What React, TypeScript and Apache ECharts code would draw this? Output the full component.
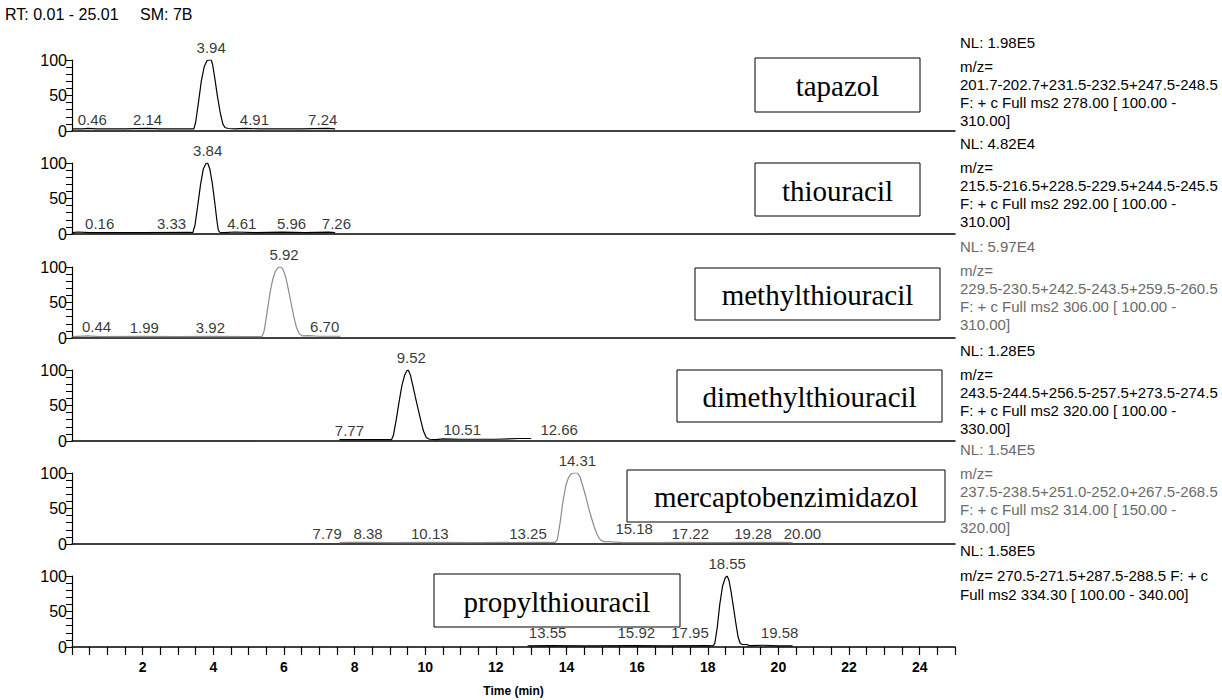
import React, { useEffect, useRef } from 'react';
import * as echarts from 'echarts';

// ---------- data ----------
const compoundNames = ['tapazol', 'thiouracil', 'methylthiouracil', 'dimethylthiouracil', 'mercaptobenzimidazol', 'propylthiouracil'];

const tapazolTrace = [[0.01,3],[0.3,3],[0.46,3.8],[0.7,3],[1.5,3],[2.14,3.6],[2.5,3],[3.2,3],[3.45,3],[3.5,12],[3.58,40],[3.66,70],[3.74,90],[3.82,99],[3.9,100],[3.94,100],[3.98,94],[4.05,72],[4.12,48],[4.2,25],[4.27,10],[4.33,5],[4.42,3.5],[4.6,3],[4.91,3.6],[5.3,3],[6.5,3],[7.24,3.6],[7.45,3]];
const thiouracilTrace = [[0.01,2],[0.16,2.8],[0.5,2],[2,2],[3.33,2.5],[3.42,2],[3.48,12],[3.56,40],[3.64,70],[3.72,92],[3.8,100],[3.84,100],[3.9,92],[3.97,72],[4.04,45],[4.1,20],[4.14,6],[4.18,2.5],[4.3,2],[4.61,2.8],[5.2,2],[5.96,2.6],[6.6,2],[7.26,2.6],[7.45,2]];
const methylTrace = [[0.01,2],[0.44,3],[0.8,2],[1.99,2.4],[3,2],[3.92,2.3],[5.0,2],[5.38,2],[5.44,10],[5.52,35],[5.6,62],[5.68,82],[5.76,94],[5.84,99.5],[5.92,100],[5.98,96],[6.05,86],[6.12,70],[6.2,50],[6.28,30],[6.36,14],[6.44,6],[6.52,3],[6.7,3.4],[7.0,2.5],[7.6,2.5]];
const dimethylTrace = [[7.57,2],[7.77,2],[8.5,2],[9.05,2],[9.1,8],[9.18,30],[9.26,55],[9.34,78],[9.42,93],[9.48,99],[9.52,100],[9.58,93],[9.65,78],[9.72,62],[9.8,45],[9.88,28],[9.95,14],[10.03,5],[10.12,2.5],[10.3,2],[10.51,3],[11,2.5],[12,2.5],[12.66,3.5],[13.0,3.5]];
const mercaptoTrace = [[7.58,2],[7.79,2.3],[8.38,2.2],[9,2],[10.13,2.2],[11.5,2],[13.25,2.3],[13.68,2.2],[13.74,6],[13.82,30],[13.9,60],[13.98,82],[14.06,94],[14.14,99],[14.22,100],[14.31,100],[14.38,95],[14.46,82],[14.54,68],[14.62,52],[14.7,38],[14.78,25],[14.86,14],[14.94,7],[15.02,4],[15.1,3],[15.18,3.5],[15.3,3],[15.6,2],[16.5,2],[17.22,2.4],[18.2,2],[19.28,2.3],[20.0,2.5],[20.4,2]];
const propylTrace = [[12.9,1.5],[13.55,2],[14.5,1.5],[15.92,2],[16.8,1.5],[17.95,2],[18.15,1.5],[18.2,5],[18.27,28],[18.34,60],[18.42,86],[18.5,98],[18.55,100],[18.6,94],[18.66,78],[18.73,55],[18.8,32],[18.86,14],[18.92,5],[18.98,3.5],[19.1,3.5],[19.18,2],[19.58,2.5],[20.0,1.5],[20.4,1.5]];

const tapazolPeaks = [[0.46,3.8],[2.14,3.6],[3.94,100],[4.91,3.6],[7.24,3.6]];
const thiouracilPeaks = [[0.16,2.8],[3.33,2.5],[3.84,100],[4.61,2.8],[5.96,2.6],[7.26,2.6]];
const methylPeaks = [[0.44,3],[1.99,2.4],[3.92,2.3],[5.92,100],[6.70,3.4]];
const dimethylPeaks = [[7.77,2],[9.52,100],[10.51,3],[12.66,3.5]];
const mercaptoPeaks = [[7.79,2.3],[8.38,2.2],[10.13,2.2],[13.25,2.3],[14.31,100],[15.18,3.5],[17.22,2.4],[19.28,2.3],[20.00,2.5]];
const propylPeaks = [[13.55,2],[15.92,2],[17.95,2],[18.55,100],[19.58,2.5]];

const infoTapazol = ['NL: 1.98E5', 'm/z=', '201.7-202.7+231.5-232.5+247.5-248.5', 'F: + c Full ms2 278.00 [ 100.00 -', '310.00]'];
const infoThiouracil = ['NL: 4.82E4', 'm/z=', '215.5-216.5+228.5-229.5+244.5-245.5', 'F: + c Full ms2 292.00 [ 100.00 -', '310.00]'];
const infoMethyl = ['NL: 5.97E4', 'm/z=', '229.5-230.5+242.5-243.5+259.5-260.5', 'F: + c Full ms2 306.00 [ 100.00 -', '310.00]'];
const infoDimethyl = ['NL: 1.28E5', 'm/z=', '243.5-244.5+256.5-257.5+273.5-274.5', 'F: + c Full ms2 320.00 [ 100.00 -', '330.00]'];
const infoMercapto = ['NL: 1.54E5', 'm/z=', '237.5-238.5+251.0-252.0+267.5-268.5', 'F: + c Full ms2 314.00 [ 150.00 -', '320.00]'];
const infoPropyl = ['NL: 1.58E5', 'm/z= 270.5-271.5+287.5-288.5 F: + c', 'Full ms2 334.30 [ 100.00 - 340.00]'];

const headerLeft = 'RT: 0.01 - 25.01';
const headerRight = 'SM: 7B';
const xAxisName = 'Time (min)';

// ---------- styling / layout ----------
const traces = [tapazolTrace, thiouracilTrace, methylTrace, dimethylTrace, mercaptoTrace, propylTrace];
const peaks = [tapazolPeaks, thiouracilPeaks, methylPeaks, dimethylPeaks, mercaptoPeaks, propylPeaks];
const infos = [infoTapazol, infoThiouracil, infoMethyl, infoDimethyl, infoMercapto, infoPropyl];
const labelOffsets = [
  [[4,0],[0,0],[0,0],[9,0],[-5,0]],
  [[22,0],[-18,0],[0,0],[7,0],[9,0],[8,0]],
  [[9,0],[2,0],[0,0],[3,0],[16,0]],
  [[3,0],[3,0],[19,0],[40,0]],
  [[-20,0],[0,0],[0,0],[-12,0],[0,0],[26,-4],[10,0],[0,0],[24,0]],
  [[-3,-4],[2,-4],[-16,-4],[0,0],[16,-4]],
];
const greyPanels = [false, false, true, false, true, false];
const baselines = [131, 234, 338, 441, 544, 647];
const infoTops = [42, 143, 246, 350, 449, 550];
const boxes = [
  [755, 58, 165, 54],
  [755, 163, 165, 53],
  [695, 268, 245, 52],
  [677, 370, 265, 52],
  [627, 470, 318, 52],
  [434, 574, 246, 53],
];
const PANEL_H = 71;
const LEFT = 72;
const RIGHT_X = 955;
const SANS = '"Liberation Sans", Arial, sans-serif';
const SERIF = '"Liberation Serif", "Times New Roman", serif';

export default function App() {
  const ref = useRef<HTMLDivElement>(null);
  useEffect(() => {
    if (!ref.current) return;
    const chart = echarts.init(ref.current, null, { renderer: 'svg' });
    const grid = baselines.map((b) => ({
      left: LEFT, width: RIGHT_X - LEFT, top: b - PANEL_H, height: PANEL_H, outerBoundsMode: 'none',
    }));
    const xAxis = baselines.map((_, i) => {
      const last = i === baselines.length - 1;
      return {
        type: 'value', gridIndex: i, min: 0, max: 25, interval: 0.5,
        axisLine: { show: true, onZero: false, lineStyle: { color: '#000', width: 1.5 } },
        axisTick: { show: last, length: 8, lineStyle: { color: '#000', width: 1.2 } },
        axisLabel: {
          show: last, margin: 13, color: '#000', fontSize: 14, fontWeight: 'bold', fontFamily: SANS,
          formatter: (v: number) => (v > 0 && Math.abs(v % 2) < 1e-9 ? String(v) : ''),
        },
        splitLine: { show: false },
        name: last ? xAxisName : '',
        nameLocation: 'middle', nameGap: 38,
        nameTextStyle: { color: '#000', fontSize: 12, fontWeight: 'bold', fontFamily: SANS },
      };
    });
    const yAxis = baselines.map((_, i) => ({
      type: 'value', gridIndex: i, min: 0, max: 100, interval: 50,
      axisLine: { show: true, lineStyle: { color: '#000', width: 1.2 } },
      axisTick: { show: true, length: 6, lineStyle: { color: '#000', width: 1 } },
      minorTick: { show: true, splitNumber: 5, length: 6, lineStyle: { color: '#000', width: 1 } },
      axisLabel: { color: '#000', fontSize: 16, margin: 5, fontFamily: SANS },
      splitLine: { show: false },
      minorSplitLine: { show: false },
    }));
    const series: any[] = [];
    traces.forEach((t, i) => {
      const col = greyPanels[i] ? '#8c8c8c' : '#000';
      series.push({
        type: 'line', xAxisIndex: i, yAxisIndex: i, data: t, symbol: 'none', showSymbol: false,
        lineStyle: { color: col, width: 1.2 }, silent: true, z: 3,
      });
      series.push({
        type: 'scatter', xAxisIndex: i, yAxisIndex: i, symbolSize: 1,
        itemStyle: { color: 'rgba(0,0,0,0)' }, silent: true, z: 4,
        data: peaks[i].map((p, j) => {
          const off = labelOffsets[i][j] || [0, 0];
          const big = p[1] > 50;
          return { value: p, label: { offset: [off[0], off[1]], distance: big ? 5 : 1 } };
        }),
        label: {
          show: true, position: 'top', color: '#000', fontSize: 15, fontFamily: SANS,
          formatter: (p: any) => Number(p.value[0]).toFixed(2),
        },
      });
    });
    const graphic: any[] = [];
    graphic.push({ type: 'text', x: 5, y: 14, style: { text: headerLeft, fill: '#000', font: '16px ' + SANS, verticalAlign: 'middle' } });
    graphic.push({ type: 'text', x: 140, y: 14, style: { text: headerRight, fill: '#000', font: '16px ' + SANS, verticalAlign: 'middle' } });
    boxes.forEach((b, i) => {
      graphic.push({ type: 'rect', shape: { x: b[0], y: b[1], width: b[2], height: b[3] }, style: { fill: '#fff', stroke: '#000', lineWidth: 1 }, z: 10 });
      graphic.push({ type: 'text', x: b[0] + b[2] / 2, y: b[1] + b[3] / 2 + 1, style: { text: compoundNames[i], fill: '#000', font: '29px ' + SERIF, align: 'center', verticalAlign: 'middle' }, z: 11 });
    });
    infos.forEach((lines, i) => {
      const col = greyPanels[i] ? '#6a6a6a' : '#000';
      const offs = lines.length === 5 ? [0, 24, 42, 60, 78] : [0, 25, 44];
      lines.forEach((ln, k) => {
        graphic.push({ type: 'text', x: 960, y: infoTops[i] + offs[k], style: { text: ln, fill: col, font: '15px ' + SANS, verticalAlign: 'middle' } });
      });
    });
    chart.setOption({
      animation: false,
      backgroundColor: '#fff',
      grid, xAxis, yAxis, series, graphic,
    });
    return () => chart.dispose();
  }, []);
  return <div ref={ref} style={{ position: 'fixed', left: 0, top: 0, width: 1222, height: 700 }} />;
}
